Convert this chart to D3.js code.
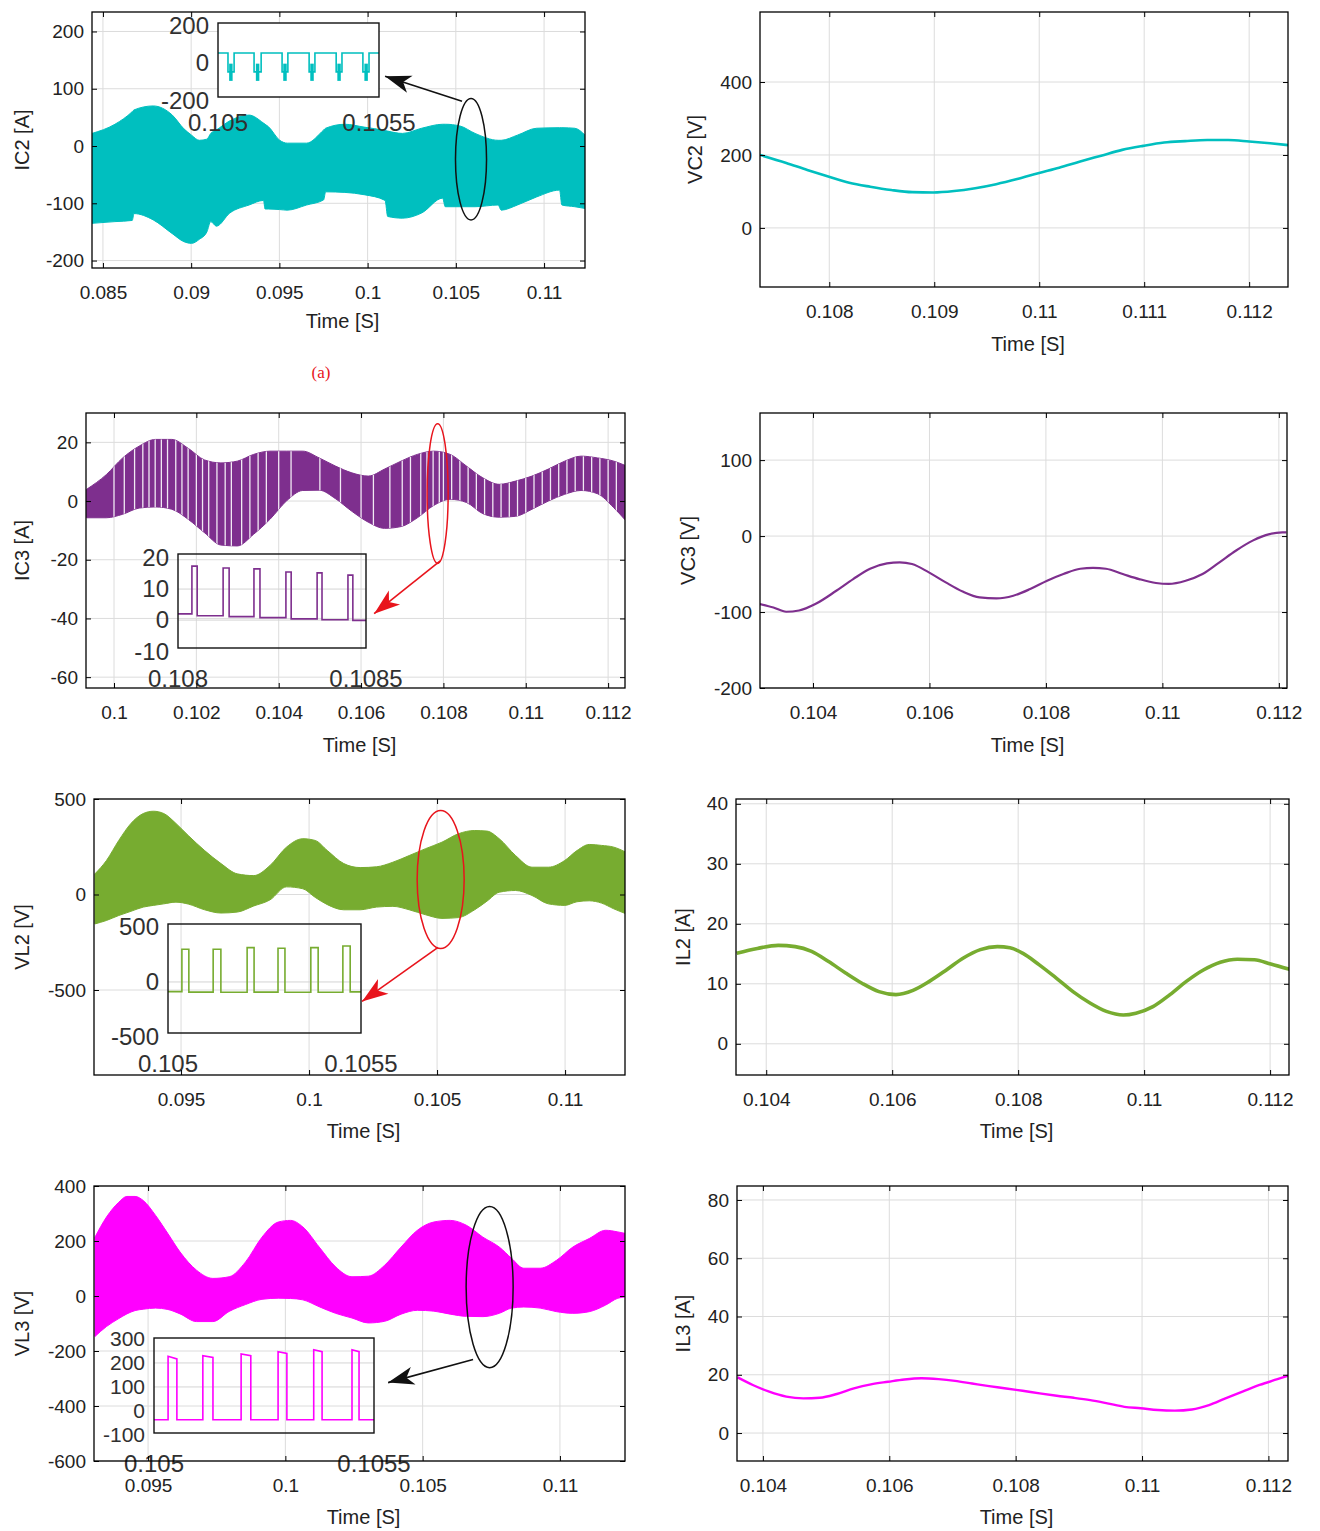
<!DOCTYPE html>
<html>
<head>
<meta charset="utf-8">
<script src="https://cdn.jsdelivr.net/npm/d3@7"></script>
<style>
  html, body { margin: 0; padding: 0; background: #fff; }
  svg { display: block; }
  text { font-family: "Liberation Sans", Arial, sans-serif; fill: #222; }
  .tick text { font-size: 19px; fill: #222; }
  .title { font-size: 20px; }
  .inset-label { font-size: 24px; fill: #303030; }
  .inset-label.tight { font-size: 21px; }
  .tag { font-family: "Liberation Serif", "Times New Roman", serif; font-size: 17px; fill: #e8141c; }
</style>
</head>
<body>
<svg id="fig" width="1320" height="1531"></svg>
<script>
// ---------------- data ----------------
// IC2 : switching-current envelope (upper / lower extremes of the PWM waveform)
const ic2Time  = [0.08438,0.08568,0.08666,0.08676,0.08785,0.08893,0.08959,0.09002,0.09046,0.09089,0.09111,0.09143,0.09219,0.09328,0.0941,0.09419,0.09437,0.09502,0.09545,0.09654,0.09751,0.09762,0.09871,0.0998,0.10099,0.10114,0.10197,0.10306,0.10425,0.1044,0.10523,0.10609,0.1074,0.10757,0.10849,0.10957,0.11088,0.11101,0.11174,0.11232];
const ic2Upper = [22,38,60,63,70,54,30,19,10,12,22,28,44,54,40,38,34,10,5,5,28,31,38,33,27,26,22,31,38,38,35,22,10,10,19,31,32,32,31,19];
const ic2Lower = [-135,-132,-130,-118,-129,-153,-167,-170,-163,-150,-132,-140,-117,-103,-95,-110,-110,-111,-112,-103,-94,-80,-81,-85,-95,-123,-126,-117,-91,-106,-106,-106,-103,-112,-103,-89,-77,-103,-106,-109];

// IC2 zoom window: notch edges and spike instants
const ic2NotchOn   = [0.105031,0.105112,0.105199,0.105283,0.105367,0.10545];
const ic2NotchOff  = [0.10505,0.105134,0.105217,0.105301,0.105385,0.105469];
const ic2SpikeTime = [0.10504,0.105123,0.105208,0.105292,0.105376,0.10546];
const ic2InsetLevels = [52, -49];       // conducting level, notch level
const ic2SpikeRange  = [-5, -97];

// VC2 : capacitor voltage
const vc2Time  = [0.10734,0.10759,0.10779,0.10799,0.10819,0.10839,0.10859,0.10879,0.10899,0.10919,0.10939,0.10959,0.10979,0.10999,0.11019,0.11039,0.11059,0.11079,0.11099,0.11119,0.11139,0.1116,0.1118,0.112,0.1122,0.11237];
const vc2Value = [200,178,159,141,124,113,104,98,97,101,109,120,134,150,165,182,198,214,225,234,238,241,241,237,232,227];

// IC3 : switching-current envelope
const ic3Time  = [0.099336,0.099813,0.100211,0.10061,0.101006,0.101404,0.1018,0.102199,0.102597,0.102994,0.103392,0.103789,0.104187,0.104585,0.104982,0.10538,0.105777,0.106175,0.106573,0.10697,0.107368,0.107765,0.108163,0.108561,0.108958,0.109356,0.109753,0.110151,0.110548,0.110946,0.111344,0.111741,0.112139,0.112437];
const ic3Upper = [4,9,14.7,18.7,21,21,18,14,13,13.6,15.9,17,17,17,14.7,11.9,9.6,8.5,10.9,13.6,15.9,17,15.9,11.9,7.9,5.7,6.8,8.5,10.9,13.6,15.3,14.7,13.6,12];
const ic3Lower = [-5.7,-5.7,-4.5,-2.4,-2,-2.8,-6.2,-10.8,-15,-15.3,-11.3,-6.2,0,3.6,3.7,0.8,-3.5,-7.2,-9.3,-8.7,-5.7,-1.5,0.6,-0.5,-4.3,-5.5,-5.2,-2.8,0,2.3,3.6,2.5,-2.3,-6.8];
// instants where the sampled trace drops out (white gaps in the band)
const ic3Gaps = [0.1,0.10025,0.1005,0.1007,0.10085,0.101,0.10115,0.1013,0.1015,0.10165,0.1018,0.102,0.10215,0.1023,0.1025,0.1027,0.10285,0.1031,0.1033,0.1035,0.1037,0.104,0.1043,0.105,0.1055,0.106,0.1063,0.1067,0.107,0.1072,0.10745,0.1076,0.10775,0.1079,0.108,0.1082,0.1084,0.1086,0.1088,0.109,0.1092,0.1094,0.1096,0.1098,0.11,0.1102,0.1104,0.1106,0.1108,0.111,0.1112,0.1114,0.1116,0.1118,0.112,0.1122];

// IC3 zoom window: pulses
const ic3PulseOn   = [0.108037,0.10812,0.108202,0.108287,0.10837,0.108452];
const ic3PulseOff  = [0.108051,0.108136,0.108218,0.108301,0.108383,0.108465];
const ic3PulseTop  = [17.4,16.8,16.5,15.5,15.2,14.5];
const ic3PulseBase = [2.0,1.4,1.1,0.8,0.4,0.1,-0.1];

// VC3 : capacitor voltage
const vc3Time  = [0.10309,0.10332,0.10354,0.10376,0.10404,0.1044,0.10469,0.10498,0.10527,0.10549,0.1057,0.10599,0.10628,0.10657,0.10686,0.10715,0.10744,0.10773,0.10802,0.1083,0.10859,0.10881,0.10903,0.10932,0.1096,0.10989,0.11011,0.1104,0.11069,0.11098,0.11126,0.11155,0.11184,0.11206,0.11213];
const vc3Value = [-89.5,-94,-99.6,-98,-89.5,-72,-56.6,-43,-36,-34.6,-36.8,-47.8,-61,-73,-80.7,-82,-78.5,-69.7,-58.8,-50,-43,-42,-43,-50,-56.6,-61.8,-63,-58.8,-50,-34.6,-19.3,-6,2.6,4.8,4.8];

// VL2 : inductor-voltage envelope
const vl2Time  = [0.091636,0.092086,0.092567,0.093043,0.093524,0.093922,0.094324,0.094801,0.095281,0.095922,0.096559,0.097199,0.09784,0.098476,0.099117,0.099758,0.100238,0.100715,0.101355,0.101996,0.102632,0.103273,0.103913,0.10455,0.105191,0.105831,0.106468,0.106948,0.107429,0.108066,0.108706,0.109347,0.109984,0.110464,0.110944,0.111425,0.111901,0.112382];
const vl2Upper = [108,178,283,372,424,436,424,372,309,230,162,108,99,152,248,292,283,230,162,141,145,169,204,240,274,318,335,332,292,204,143,143,178,230,262,257,248,221];
const vl2Lower = [-154,-136,-110,-88,-66,-57,-49,-40,-50,-80,-97,-92,-60,-28,40,30,-15,-53,-80,-80,-66,-62,-80,-106,-125,-121,-80,-35,12,21,-5,-49,-57,-38,-33,-45,-75,-101];

// VL2 zoom window: pulses
const vl2PulseOn   = [0.105036,0.105117,0.105205,0.105285,0.10537,0.105453];
const vl2PulseOff  = [0.105054,0.105137,0.105223,0.105303,0.105389,0.105472];
const vl2PulseTop  = [297,297,312,306,312,327];
const vl2PulseBase = [-88,-92,-94,-92,-94,-94,-90];

// IL2 : inductor current
const il2Time  = [0.10353,0.10386,0.10419,0.10446,0.10472,0.10499,0.10526,0.10552,0.10579,0.10606,0.10633,0.10659,0.10686,0.10713,0.1074,0.10767,0.10787,0.10807,0.10833,0.1086,0.10887,0.10914,0.1094,0.10967,0.10987,0.11014,0.11041,0.11067,0.11094,0.11121,0.11148,0.11175,0.11201,0.11231];
const il2Value = [15.1,15.9,16.4,16.2,15.4,13.7,11.8,10.1,8.7,8.2,8.9,10.4,12.3,14.3,15.7,16.2,16,15.1,13.2,11,8.7,6.8,5.4,4.8,5.1,6.2,8.2,10.4,12.3,13.6,14.1,14,13.3,12.4];

// VL3 : inductor-voltage envelope
const vl3Time  = [0.093066,0.093485,0.093933,0.094228,0.094527,0.094825,0.095273,0.095721,0.096165,0.096763,0.09736,0.097954,0.098551,0.099148,0.099742,0.10019,0.100638,0.101232,0.101829,0.102426,0.10302,0.103617,0.104214,0.104808,0.105405,0.106003,0.106596,0.107194,0.107791,0.108239,0.108683,0.10928,0.109878,0.110471,0.111068,0.111666,0.11211,0.112409];
const vl3Upper = [214,287,341,362,362,347,293,227,160,94,64,70,124,214,269,275,251,178,106,70,72,112,178,239,269,275,257,214,178,137,101,101,130,178,209,239,233,227];
const vl3Lower = [-147,-111,-82,-65,-53,-48,-44,-49,-65,-93,-93,-56,-31,-12,-8,-9,-14,-39,-63,-80,-98,-92,-66,-52,-55,-66,-74,-75,-63,-44,-40,-44,-57,-63,-57,-33,-8,-3];

// VL3 zoom window: pulses (top level at rising and falling edge)
const vl3PulseOn     = [0.105032,0.105111,0.105198,0.105282,0.105363,0.10545];
const vl3PulseOff    = [0.105052,0.105134,0.10522,0.105302,0.105382,0.105466];
const vl3PulseTopOn  = [228,230,237,247,255,255];
const vl3PulseTopOff = [217,223,230,240,247,247];
const vl3PulseBase   = [-37,-37,-37,-37,-37,-37,-37];

// IL3 : inductor current
const il3Time  = [0.1036,0.10384,0.1041,0.10437,0.10464,0.1049,0.10517,0.10544,0.10571,0.10598,0.10624,0.10651,0.10678,0.10704,0.10731,0.10758,0.10785,0.10811,0.10838,0.10865,0.10892,0.10918,0.10945,0.10972,0.10998,0.11025,0.11052,0.11079,0.11106,0.11132,0.11159,0.11186,0.11213,0.11235];
const il3Value = [19.1,16.5,14.2,12.5,11.9,12.1,13.4,15.3,16.7,17.6,18.4,18.8,18.5,17.9,17,16.1,15.3,14.5,13.6,12.8,12.1,11.3,10.2,9,8.5,7.9,7.7,8.1,9.6,11.9,14.2,16.5,18.4,19.9];

// axis ranges and ticks
const ic2XDomain = [0.08438, 0.11232], ic2YDomain = [-213, 234];
const ic2XTicks = [0.085,0.09,0.095,0.1,0.105,0.11], ic2YTicks = [-200,-100,0,100,200];
const vc2XDomain = [0.10734, 0.11237], vc2YDomain = [-162, 592];
const vc2XTicks = [0.108,0.109,0.11,0.111,0.112], vc2YTicks = [0,200,400];
const ic3XDomain = [0.09932, 0.11241], ic3YDomain = [-63.7, 30];
const ic3XTicks = [0.1,0.102,0.104,0.106,0.108,0.11,0.112], ic3YTicks = [-60,-40,-20,0,20];
const vc3XDomain = [0.10309, 0.11214], vc3YDomain = [-200, 162];
const vc3XTicks = [0.104,0.106,0.108,0.11,0.112], vc3YTicks = [-200,-100,0,100];
const vl2XDomain = [0.0916, 0.11234], vl2YDomain = [-945, 500];
const vl2XTicks = [0.095,0.1,0.105,0.11], vl2YTicks = [-500,0,500];
const il2XDomain = [0.10352, 0.1123], il2YDomain = [-5.2, 40.8];
const il2XTicks = [0.104,0.106,0.108,0.11,0.112], il2YTicks = [0,10,20,30,40];
const vl3XDomain = [0.09303, 0.11237], vl3YDomain = [-600, 400];
const vl3XTicks = [0.095,0.1,0.105,0.11], vl3YTicks = [-600,-400,-200,0,200,400];
const il3XDomain = [0.10359, 0.11231], il3YDomain = [-9.6, 84.8];
const il3XTicks = [0.104,0.106,0.108,0.11,0.112], il3YTicks = [0,20,40,60,80];

// zoom-window ranges and ticks
const ic2InsetX = [0.105, 0.1055], ic2InsetY = [-183, 212], ic2InsetYTicks = [-200, 0, 200];
const ic3InsetX = [0.108, 0.1085], ic3InsetY = [-9, 21.3], ic3InsetYTicks = [-10, 0, 10, 20];
const vl2InsetX = [0.105, 0.1055], vl2InsetY = [-464, 527], vl2InsetYTicks = [-500, 0, 500];
const vl3InsetX = [0.105, 0.1055], vl3InsetY = [-92, 304], vl3InsetYTicks = [-100, 0, 100, 200, 300];

// callouts: ellipse centre [t, value], radii [dt, dvalue], arrow from -> to
const ic2Callout = { c: [0.10586, -23],  r: [0.00088, 106],   from: [0.10535, 78],     to: [0.10099, 122] };
const ic3Callout = { c: [0.10786, 2.55], r: [0.000255, 23.8], from: [0.107922, -20.4], to: [0.106318, -38.4] };
const vl2Callout = { c: [0.10514, 78.5], r: [0.000918, 361],  from: [0.105038, -277],  to: [0.10207, -560] };
const vl3Callout = { c: [0.10744, 32.5], r: [0.000856, 293],  from: [0.106837, -231],  to: [0.103741, -315] };

// ---------------- drawing ----------------
const TEAL = '#00bfbf', PURPLE = '#7e2f8e', GREEN = '#77ac30', MAGENTA = '#ff00ff';
const BLACK_ANN = '#111', RED_ANN = '#e8141c';

const svg = d3.select('#fig');
const defs = svg.append('defs');
const zip = (t, ...cols) => t.map((d, i) => [d, ...cols.map(c => c[i])]);

function arrowMarker(id, color) {
  defs.append('marker')
    .attr('id', id)
    .attr('viewBox', '-27 -10 28 20')
    .attr('refX', 0).attr('refY', 0)
    .attr('markerWidth', 28).attr('markerHeight', 20)
    .attr('markerUnits', 'userSpaceOnUse')
    .attr('orient', 'auto')
    .append('path')
    .attr('d', 'M0,0 L-26,-9 L-19,0 L-26,9 Z')
    .attr('fill', color);
}
arrowMarker('arrow-black', BLACK_ANN);
arrowMarker('arrow-red', RED_ANN);

function makePanel(key, box, xDomain, yDomain, xTicks, yTicks, yTitle, yTitleX, xTitleDy) {
  const [x0, x1, y0, y1] = box;
  const x = d3.scaleLinear().domain(xDomain).range([x0, x1]);
  const y = d3.scaleLinear().domain(yDomain).range([y1, y0]);
  const g = svg.append('g').attr('class', 'panel-' + key);

  const clipId = 'clip-' + key;
  defs.append('clipPath').attr('id', clipId)
    .append('rect').attr('x', x0).attr('y', y0).attr('width', x1 - x0).attr('height', y1 - y0);

  const grid = g.append('g').attr('stroke', '#dcdcdc').attr('stroke-width', 1);
  grid.selectAll('line.gx').data(xTicks).join('line').attr('class', 'gx')
    .attr('x1', d => x(d)).attr('x2', d => x(d)).attr('y1', y0).attr('y2', y1);
  grid.selectAll('line.gy').data(yTicks).join('line').attr('class', 'gy')
    .attr('x1', x0).attr('x2', x1).attr('y1', d => y(d)).attr('y2', d => y(d));

  const plot = g.append('g').attr('clip-path', `url(#${clipId})`);
  const inset = g.append('g');
  const frame = g.append('g');
  const annot = g.append('g');

  frame.append('rect').attr('x', x0).attr('y', y0).attr('width', x1 - x0).attr('height', y1 - y0)
    .attr('fill', 'none').attr('stroke', '#000').attr('stroke-width', 1.3);

  const bottom = frame.append('g').attr('transform', `translate(0,${y1})`)
    .call(d3.axisBottom(x).tickValues(xTicks).tickSize(-5).tickPadding(17.5).tickFormat(String));
  const top = frame.append('g').attr('transform', `translate(0,${y0})`)
    .call(d3.axisTop(x).tickValues(xTicks).tickSize(-5).tickFormat(''));
  const left = frame.append('g').attr('transform', `translate(${x0},0)`)
    .call(d3.axisLeft(y).tickValues(yTicks).tickSize(-5).tickPadding(8).tickFormat(String));
  const right = frame.append('g').attr('transform', `translate(${x1},0)`)
    .call(d3.axisRight(y).tickValues(yTicks).tickSize(-5).tickFormat(''));
  [bottom, top, left, right].forEach(a => {
    a.select('.domain').remove();
    a.attr('font-size', null).attr('font-family', null);
  });

  frame.append('text').attr('class', 'title')
    .attr('text-anchor', 'middle')
    .attr('x', (x0 + x1) / 2 + 4).attr('y', y1 + xTitleDy)
    .text('Time [S]');
  frame.append('text').attr('class', 'title')
    .attr('text-anchor', 'middle')
    .attr('transform', `translate(${yTitleX},${(y0 + y1) / 2}) rotate(-90)`)
    .attr('dy', '0.35em')
    .text(yTitle);

  return { x, y, plot, inset, annot, box };
}

function drawBand(p, time, upper, lower, color) {
  const rows = zip(time, upper, lower);
  const area = d3.area().x(d => p.x(d[0])).y1(d => p.y(d[1])).y0(d => p.y(d[2]))
    .curve(d3.curveMonotoneX);
  p.plot.append('path').datum(rows).attr('d', area)
    .attr('fill', color).attr('stroke', color).attr('stroke-width', 1);
  return area(rows);
}

function drawLine(p, time, value, color, width) {
  const line = d3.line().x(d => p.x(d[0])).y(d => p.y(d[1])).curve(d3.curveMonotoneX);
  p.plot.append('path').datum(zip(time, value)).attr('d', line)
    .attr('fill', 'none').attr('stroke', color).attr('stroke-width', width)
    .attr('stroke-linejoin', 'round');
}

function drawCallout(p, c, color, markerId) {
  const cx = p.x(c.c[0]), cy = p.y(c.c[1]);
  const rx = Math.abs(p.x(c.c[0] + c.r[0]) - cx), ry = Math.abs(p.y(c.c[1] + c.r[1]) - cy);
  p.annot.append('ellipse').attr('cx', cx).attr('cy', cy).attr('rx', rx).attr('ry', ry)
    .attr('fill', 'none').attr('stroke', color).attr('stroke-width', 1.5);
  p.annot.append('line')
    .attr('x1', p.x(c.from[0])).attr('y1', p.y(c.from[1]))
    .attr('x2', p.x(c.to[0])).attr('y2', p.y(c.to[1]))
    .attr('stroke', color).attr('stroke-width', 1.6)
    .attr('marker-end', `url(#${markerId})`);
}

// zoom window drawn inside a panel
function makeInset(p, box, xDomain, yDomain, yTicks, gridVals, labelDy, opaque, labelClass) {
  const [x0, x1, y0, y1] = box;
  const sx = d3.scaleLinear().domain(xDomain).range([x0, x1]);
  const sy = d3.scaleLinear().domain(yDomain).range([y1, y0]);
  const g = p.inset.append('g');
  g.append('rect').attr('x', x0).attr('y', y0).attr('width', x1 - x0).attr('height', y1 - y0)
    .attr('fill', opaque ? '#fff' : 'none');
  g.selectAll('line.ig').data(gridVals).join('line').attr('class', 'ig')
    .attr('x1', x0).attr('x2', x1).attr('y1', d => sy(d)).attr('y2', d => sy(d))
    .attr('stroke', '#d4d4d4').attr('stroke-width', 1);
  const body = g.append('g');
  g.append('rect').attr('x', x0).attr('y', y0).attr('width', x1 - x0).attr('height', y1 - y0)
    .attr('fill', 'none').attr('stroke', '#111').attr('stroke-width', 1.4);
  const cls = 'inset-label' + (labelClass ? ' ' + labelClass : '');
  g.selectAll('text.iy').data(yTicks).join('text').attr('class', 'iy ' + cls)
    .attr('x', x0 - 9).attr('y', d => sy(d)).attr('dy', '0.35em')
    .attr('text-anchor', 'end').text(String);
  g.selectAll('text.ix').data(xDomain).join('text').attr('class', 'ix inset-label')
    .attr('x', d => sx(d)).attr('y', y1 + labelDy)
    .attr('text-anchor', 'middle').text(String);
  return { sx, sy, body };
}

// pulse train -> vertex list
function pulseVertices(domain, on, off, topOn, topOff, base) {
  const pts = [[domain[0], base[0]]];
  on.forEach((t, i) => {
    pts.push([t, base[i]], [t, topOn[i]], [off[i], topOff[i]], [off[i], base[i + 1]]);
  });
  pts.push([domain[1], base[base.length - 1]]);
  return pts;
}

// ---- IC2 ----
const pIC2 = makePanel('ic2', [92, 585, 12, 268], ic2XDomain, ic2YDomain, ic2XTicks, ic2YTicks, 'IC2 [A]', 22, 60);
drawBand(pIC2, ic2Time, ic2Upper, ic2Lower, TEAL);
{
  const ins = makeInset(pIC2, [218, 379, 23, 97], ic2InsetX, ic2InsetY, ic2InsetYTicks, [], 34, true);
  const pts = [[ic2InsetX[0], ic2InsetLevels[0]]];
  ic2NotchOn.forEach((t, i) => {
    pts.push([t, ic2InsetLevels[0]], [t, ic2InsetLevels[1]], [ic2NotchOff[i], ic2InsetLevels[1]], [ic2NotchOff[i], ic2InsetLevels[0]]);
  });
  pts.push([ic2InsetX[1], ic2InsetLevels[0]]);
  ins.body.append('path').datum(pts)
    .attr('d', d3.line().x(d => ins.sx(d[0])).y(d => ins.sy(d[1])))
    .attr('fill', 'none').attr('stroke', TEAL).attr('stroke-width', 1.6);
  ins.body.selectAll('line.spike').data(ic2SpikeTime).join('line').attr('class', 'spike')
    .attr('x1', d => ins.sx(d)).attr('x2', d => ins.sx(d))
    .attr('y1', ins.sy(ic2SpikeRange[0])).attr('y2', ins.sy(ic2SpikeRange[1]))
    .attr('stroke', TEAL).attr('stroke-width', 3.5);
}
drawCallout(pIC2, ic2Callout, BLACK_ANN, 'arrow-black');

svg.append('text').attr('class', 'tag').attr('x', 321).attr('y', 378)
  .attr('text-anchor', 'middle').text('(a)');

// ---- VC2 ----
const pVC2 = makePanel('vc2', [760, 1288, 12, 287], vc2XDomain, vc2YDomain, vc2XTicks, vc2YTicks, 'VC2 [V]', 695, 64);
drawLine(pVC2, vc2Time, vc2Value, TEAL, 2.6);

// ---- IC3 ----
const pIC3 = makePanel('ic3', [86, 625, 413, 688], ic3XDomain, ic3YDomain, ic3XTicks, ic3YTicks, 'IC3 [A]', 22, 64);
{
  const d = drawBand(pIC3, ic3Time, ic3Upper, ic3Lower, PURPLE);
  defs.append('clipPath').attr('id', 'ic3-band').append('path').attr('d', d);
  pIC3.plot.append('g').attr('clip-path', 'url(#ic3-band)')
    .selectAll('line').data(ic3Gaps).join('line')
    .attr('x1', t => pIC3.x(t)).attr('x2', t => pIC3.x(t))
    .attr('y1', 413).attr('y2', 688)
    .attr('stroke', '#fff').attr('stroke-width', 1.3).attr('opacity', 0.9);
  const ins = makeInset(pIC3, [178, 366, 554, 648], ic3InsetX, ic3InsetY, ic3InsetYTicks, [10, 0], 39, false);
  ins.body.append('path')
    .datum(pulseVertices(ic3InsetX, ic3PulseOn, ic3PulseOff, ic3PulseTop, ic3PulseTop, ic3PulseBase))
    .attr('d', d3.line().x(d => ins.sx(d[0])).y(d => ins.sy(d[1])))
    .attr('fill', 'none').attr('stroke', PURPLE).attr('stroke-width', 1.6);
}
drawCallout(pIC3, ic3Callout, RED_ANN, 'arrow-red');

// ---- VC3 ----
const pVC3 = makePanel('vc3', [760, 1287, 413, 688], vc3XDomain, vc3YDomain, vc3XTicks, vc3YTicks, 'VC3 [V]', 688, 64);
drawLine(pVC3, vc3Time, vc3Value, PURPLE, 2.2);

// ---- VL2 ----
const pVL2 = makePanel('vl2', [94, 625, 799, 1075], vl2XDomain, vl2YDomain, vl2XTicks, vl2YTicks, 'VL2 [V]', 22, 63);
drawBand(pVL2, vl2Time, vl2Upper, vl2Lower, GREEN);
{
  const ins = makeInset(pVL2, [168, 361, 924, 1033], vl2InsetX, vl2InsetY, vl2InsetYTicks, [0], 39, false);
  ins.body.append('path')
    .datum(pulseVertices(vl2InsetX, vl2PulseOn, vl2PulseOff, vl2PulseTop, vl2PulseTop, vl2PulseBase))
    .attr('d', d3.line().x(d => ins.sx(d[0])).y(d => ins.sy(d[1])))
    .attr('fill', 'none').attr('stroke', GREEN).attr('stroke-width', 1.6);
}
drawCallout(pVL2, vl2Callout, RED_ANN, 'arrow-red');

// ---- IL2 ----
const pIL2 = makePanel('il2', [736, 1289, 799, 1075], il2XDomain, il2YDomain, il2XTicks, il2YTicks, 'IL2 [A]', 683, 63);
drawLine(pIL2, il2Time, il2Value, GREEN, 3.6);

// ---- VL3 ----
const pVL3 = makePanel('vl3', [94, 625, 1186, 1461], vl3XDomain, vl3YDomain, vl3XTicks, vl3YTicks, 'VL3 [V]', 22, 63);
drawBand(pVL3, vl3Time, vl3Upper, vl3Lower, MAGENTA);
{
  const ins = makeInset(pVL3, [154, 374, 1338, 1433], vl3InsetX, vl3InsetY, vl3InsetYTicks, [200, 100], 39, false, 'tight');
  ins.body.append('path')
    .datum(pulseVertices(vl3InsetX, vl3PulseOn, vl3PulseOff, vl3PulseTopOn, vl3PulseTopOff, vl3PulseBase))
    .attr('d', d3.line().x(d => ins.sx(d[0])).y(d => ins.sy(d[1])))
    .attr('fill', 'none').attr('stroke', MAGENTA).attr('stroke-width', 1.6);
}
drawCallout(pVL3, vl3Callout, BLACK_ANN, 'arrow-black');

// ---- IL3 ----
const pIL3 = makePanel('il3', [737, 1288, 1186, 1461], il3XDomain, il3YDomain, il3XTicks, il3YTicks, 'IL3 [A]', 683, 63);
drawLine(pIL3, il3Time, il3Value, MAGENTA, 2.4);
</script>
</body>
</html>
